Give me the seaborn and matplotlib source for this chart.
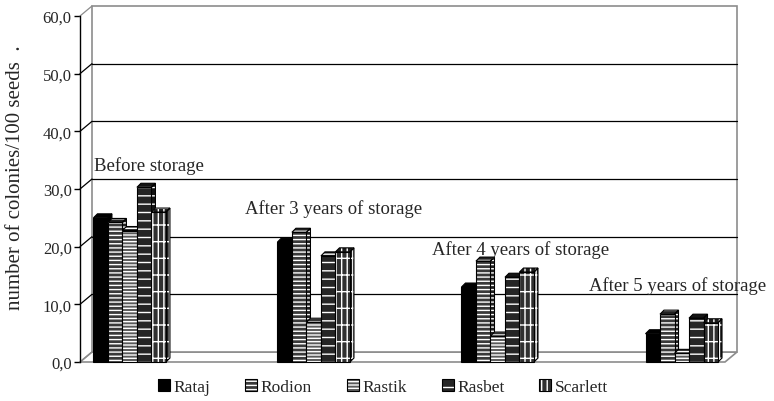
import numpy as np
import pandas as pd
import matplotlib
matplotlib.use("Agg")
import matplotlib.pyplot as plt
import seaborn as sns
from matplotlib.patches import Polygon, Rectangle, Patch
from matplotlib.ticker import FuncFormatter

# ---- data -------------------------------------------------------------
stages = ["Before storage", "After 3 years of storage",
          "After 4 years of storage", "After 5 years of storage"]
varieties = ["Rataj", "Rodion", "Rastik", "Rasbet", "Scarlett"]
rataj = [25.0, 20.8, 13.0, 4.9]
rodion = [24.2, 22.5, 17.5, 8.3]
rastik = [22.8, 6.9, 4.5, 1.5]
rasbet = [30.3, 18.4, 14.7, 7.6]
scarlett = [26.0, 19.1, 15.6, 6.8]
y_ticks = [0, 10, 20, 30, 40, 50, 60]
y_label = "number of colonies/100 seeds  ."

series = [rataj, rodion, rastik, rasbet, scarlett]
df = pd.DataFrame(
    [(s, v, vals[i]) for v, vals in zip(varieties, series) for i, s in enumerate(stages)],
    columns=["stage", "variety", "colonies"],
)

# ---- styling ----------------------------------------------------------
sns.set_style("white")
plt.rcParams["font.family"] = ["Liberation Serif", "DejaVu Serif"]
plt.rcParams["hatch.linewidth"] = 1.0

faces = {"Rataj": "#000000", "Rodion": "#3a3a3a", "Rastik": "#5a5a5a",
         "Rasbet": "#262626", "Scarlett": "#303030"}
sides = {"Rataj": "#000000", "Rodion": "#202020", "Rastik": "#303030",
         "Rasbet": "#141414", "Scarlett": "#1c1c1c"}
hatches = {"Rataj": None, "Rodion": "----", "Rastik": "-----",
           "Rasbet": "--", "Scarlett": "|||-"}

W, H = 774, 402
fig = plt.figure(figsize=(W / 100, H / 100), dpi=100)
ax = fig.add_axes([80 / W, (H - 363) / H, 645 / W, 346 / H])

sns.barplot(data=df, x="stage", y="colonies", hue="variety",
            order=stages, hue_order=varieties, palette=faces,
            width=0.394, gap=0, saturation=1, errorbar=None,
            legend=False, ax=ax)

ax.set_xlim(-0.27, 3.235)
ax.set_ylim(0, 60)
ax.set_xlabel("")
ax.set_ylabel("")
ax.set_xticks([])
ax.set_yticks(y_ticks)
ax.yaxis.set_major_formatter(FuncFormatter(lambda v, _: f"{v:.1f}".replace(".", ",")))
ax.tick_params(axis="y", direction="out", length=4, width=1, color="black",
               labelsize=12, pad=2, left=True)
for side in ["top", "right", "bottom"]:
    ax.spines[side].set_visible(False)
ax.spines["left"].set_color("black")
ax.spines["left"].set_linewidth(1)
ax.set_facecolor("none")


def shift(x, y, dx, dy):
    """Move a data point by (dx, dy) pixels and return it in data coordinates."""
    p = ax.transData.transform((x, y)) + np.array([dx, dy])
    return tuple(ax.transData.inverted().transform(p))


# ---- 3-D box: floor, back wall, side wall ---------------------------
DX, DY = 12, 10
x0, x1 = ax.get_xlim()
grey = "#8c8c8c"
floor = Polygon([(x0, 0), (x1, 0), shift(x1, 0, DX, DY), shift(x0, 0, DX, DY)],
                closed=True, facecolor="white", edgecolor=grey, lw=1.2,
                zorder=0.5, clip_on=False)
ax.add_patch(floor)
bl = shift(x0, 0, DX, DY)
br = shift(x1, 0, DX, DY)
tl = shift(x0, 60, DX, DY)
tr = shift(x1, 60, DX, DY)
ax.add_patch(Polygon([bl, br, tr, tl], closed=True, facecolor="white",
                     edgecolor=grey, lw=1.2, zorder=0.6, clip_on=False))
for t in y_ticks[1:-1]:
    a = shift(x0, t, DX, DY)
    b = shift(x1, t, DX, DY)
    ax.plot([a[0], b[0]], [a[1], b[1]], color="black", lw=0.9, zorder=0.7, clip_on=False)
for t in y_ticks:
    a = shift(x0, t, DX, DY)
    ax.plot([x0, a[0]], [t, a[1]], color=grey if t in (0, 60) else "black",
            lw=0.9, zorder=0.7, clip_on=False)

# ---- bars drawn as 3-D columns ----------------------------------------
BX, BY = 4, 4
for h, (var, cont) in enumerate(zip(varieties, ax.containers)):
    for bar in cont:
        bx, by = bar.get_x(), bar.get_y()
        bw, bh = bar.get_width(), bar.get_height()
        z = 3 + 2 * h
        edge = "white" if hatches[var] else "black"
        side = Polygon([(bx + bw, by), shift(bx + bw, by, BX, BY),
                        shift(bx + bw, by + bh, BX, BY), (bx + bw, by + bh)],
                       closed=True, facecolor=sides[var], hatch=hatches[var],
                       edgecolor=edge, lw=0, zorder=z, clip_on=False)
        top = Polygon([(bx, by + bh), (bx + bw, by + bh),
                       shift(bx + bw, by + bh, BX, BY), shift(bx, by + bh, BX, BY)],
                      closed=True, facecolor=sides[var], hatch=hatches[var],
                      edgecolor=edge, lw=0, zorder=z, clip_on=False)
        ax.add_patch(side)
        ax.add_patch(top)
        for poly in (side, top):
            ax.add_patch(Polygon(poly.get_xy(), closed=True, fill=False,
                                 edgecolor="black", lw=0.8, zorder=z + 0.1,
                                 clip_on=False))
        bar.set_facecolor(faces[var])
        bar.set_hatch(hatches[var])
        bar.set_edgecolor(edge)
        bar.set_linewidth(0)
        bar.set_zorder(z + 1)
        ax.add_patch(Rectangle((bx, by), bw, bh, fill=False, edgecolor="black",
                               lw=0.8, zorder=z + 1.1, clip_on=False))

# ---- stage labels -----------------------------------------------------
label_pos = [(-0.194, 33.3), (0.627, 25.8), (1.643, 18.7), (2.496, 12.4)]
for s, (lx, ly) in zip(stages, label_pos):
    ax.text(lx, ly, s, fontsize=13.5, ha="left", va="baseline", zorder=20,
            clip_on=False)

fig.text(16 / W, 1 - 178 / H, y_label, rotation=90, ha="center", va="center",
         fontsize=15)

# ---- legend -----------------------------------------------------------
handles = []
for var in varieties:
    fill = Patch(facecolor=faces[var], hatch=hatches[var],
                 edgecolor="white" if hatches[var] else "black", lw=0)
    outline = Patch(facecolor="none", edgecolor="black", lw=0.8)
    handles.append((fill, outline))
fig.legend(handles, varieties, loc="center", bbox_to_anchor=(383 / W, 1 - 388 / H),
           ncol=5, frameon=False, fontsize=12.5, handlelength=0.7,
           handleheight=0.7, handletextpad=0.2, columnspacing=2.0)

fig.savefig("out.png", dpi=100)
